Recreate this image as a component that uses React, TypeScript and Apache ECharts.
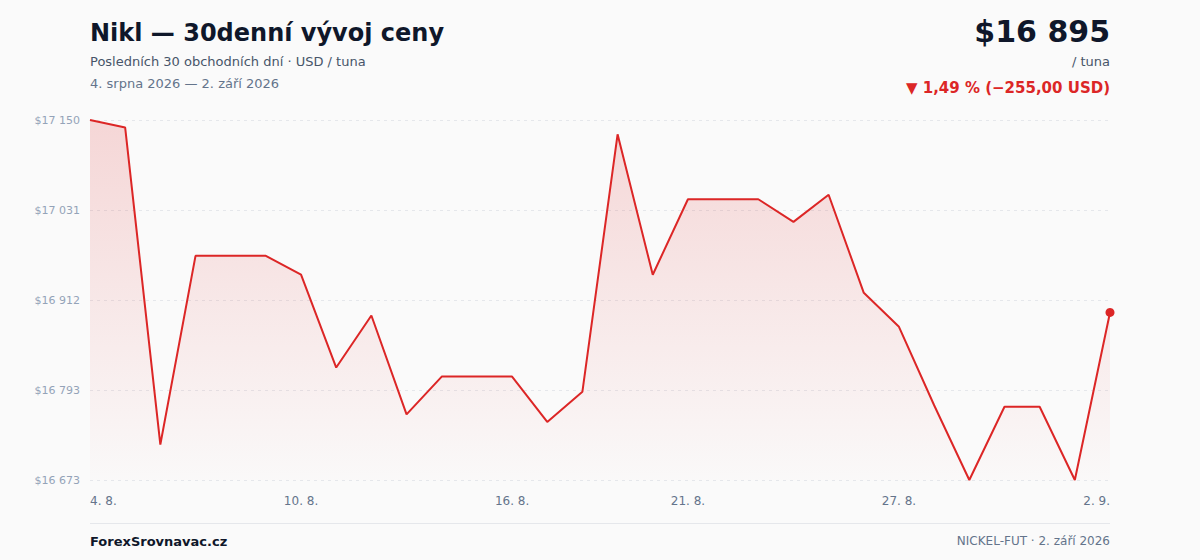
import { useEffect, useRef } from "react";
import * as echarts from "echarts";

// dny (4. 8. – 2. 9. 2026)
const dates = [
  "4. 8.", "5. 8.", "6. 8.", "7. 8.", "8. 8.", "9. 8.", "10. 8.", "11. 8.", "12. 8.", "13. 8.",
  "14. 8.", "15. 8.", "16. 8.", "17. 8.", "18. 8.", "19. 8.", "20. 8.", "21. 8.", "22. 8.", "23. 8.",
  "24. 8.", "25. 8.", "26. 8.", "27. 8.", "28. 8.", "29. 8.", "30. 8.", "31. 8.", "1. 9.", "2. 9.",
];

const prices = [
  17150, 17140, 16720, 16970, 16970, 16970, 16945, 16822, 16891, 16760,
  16810, 16810, 16810, 16750, 16790, 17131, 16945, 17045, 17045, 17045,
  17015, 17051, 16921, 16876, 16772, 16673, 16770, 16770, 16673, 16895,
];

const shownDates = [0, 6, 12, 17, 23, 29];

const yTicks = [16673, 16792.25, 16911.5, 17030.75, 17150];
const yTickLabels = ["$16 673", "$16 793", "$16 912", "$17 031", "$17 150"];

const font = "'DejaVu Sans', sans-serif";
const red = "#dc2626";

export default function App() {
  const chartRef = useRef<HTMLDivElement>(null);

  useEffect(() => {
    document.body.style.margin = "0";
    if (!chartRef.current) return;
    const chart = echarts.init(chartRef.current, undefined, { renderer: "svg" });
    const last = prices.length - 1;

    const option: echarts.EChartsOption = {
      animation: false,
      backgroundColor: "#fafafa",
      textStyle: { fontFamily: font },
      grid: { left: 90, right: 90, top: 120, bottom: 80 },
      xAxis: {
        type: "category",
        data: dates,
        boundaryGap: false,
        axisLine: { show: false },
        axisTick: { show: false },
        splitLine: { show: false },
        axisLabel: {
          interval: (i: number) => shownDates.includes(i),
          color: "#64748b",
          fontSize: 12,
          fontFamily: font,
          margin: 15,
          alignMinLabel: "left",
          alignMaxLabel: "right",
        },
      },
      yAxis: {
        type: "value",
        min: yTicks[0],
        max: yTicks[yTicks.length - 1],
        axisLine: { show: false },
        axisTick: { show: false, customValues: yTicks },
        axisLabel: {
          customValues: yTicks,
          color: "#94a3b8",
          fontSize: 11,
          fontFamily: font,
          margin: 10,
          formatter: (v: number) => {
            let best = 0;
            yTicks.forEach((t, i) => {
              if (Math.abs(t - v) < Math.abs(yTicks[best] - v)) best = i;
            });
            return yTickLabels[best];
          },
        },
        splitLine: { lineStyle: { color: "#e5e7eb", type: [3, 4], width: 1 } },
      },
      series: [
        {
          type: "line",
          data: prices,
          showSymbol: false,
          lineStyle: { color: red, width: 2 },
          areaStyle: {
            color: new echarts.graphic.LinearGradient(0, 0, 0, 1, [
              { offset: 0, color: "rgba(220,38,38,0.24)" },
              { offset: 1, color: "rgba(220,38,38,0.01)" },
            ]),
          },
        },
        {
          type: "scatter",
          data: prices.map((v, i) => (i === last ? v : "-")),
          symbolSize: 9,
          itemStyle: { color: red, opacity: 1 },
        },
      ],
      graphic: [
        {
          type: "text",
          left: 90,
          top: 21,
          style: { text: "Nikl — 30denní vývoj ceny", font: `bold 24px ${font}`, fill: "#0f172a" },
        },
        {
          type: "text",
          left: 90,
          top: 55,
          style: { text: "Posledních 30 obchodních dní · USD / tuna", font: `13px ${font}`, fill: "#475569" },
        },
        {
          type: "text",
          left: 90,
          top: 77,
          style: { text: "4. srpna 2026 — 2. září 2026", font: `13px ${font}`, fill: "#64748b" },
        },
        {
          type: "text",
          right: 90,
          top: 16,
          style: { text: "$16 895", font: `bold 30px ${font}`, fill: "#0f172a" },
        },
        {
          type: "text",
          right: 90,
          top: 55,
          style: { text: "/ tuna", font: `13px ${font}`, fill: "#475569" },
        },
        {
          type: "text",
          right: 90,
          top: 80,
          style: { text: "▼ 1,49 % (−255,00 USD)", font: `bold 15px ${font}`, fill: red },
        },
        {
          type: "line",
          shape: { x1: 90, y1: 523.5, x2: 1110, y2: 523.5 },
          style: { stroke: "#e5e7eb", lineWidth: 1 },
        },
        {
          type: "text",
          left: 90,
          top: 535,
          style: { text: "ForexSrovnavac.cz", font: `bold 13px ${font}`, fill: "#0f172a" },
        },
        {
          type: "text",
          right: 90,
          top: 535,
          style: { text: "NICKEL-FUT · 2. září 2026", font: `12px ${font}`, fill: "#64748b" },
        },
      ],
    };

    chart.setOption(option);
    return () => chart.dispose();
  }, []);

  return <div ref={chartRef} style={{ width: 1200, height: 560 }} />;
}
